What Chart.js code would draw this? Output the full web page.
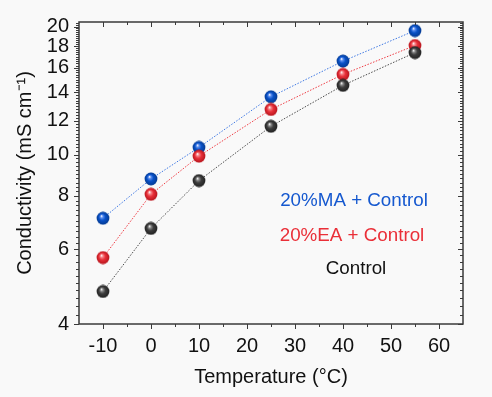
<!DOCTYPE html>
<html>
<head>
<meta charset="utf-8">
<script src="https://cdn.jsdelivr.net/npm/chart.js@4"></script>
<style>
  html, body { margin: 0; padding: 0; background: #f9f9f9; }
  #wrap { width: 492px; height: 397px; }
</style>
</head>
<body>
<div id="wrap"><canvas id="chart" width="492" height="397"></canvas></div>
<script>
// ---- data ----
const temps = [-10, 0, 10, 25, 40, 55];
const maValues = [7.09, 8.77, 10.40, 13.68, 16.59, 19.57];
const eaValues = [5.73, 8.07, 9.92, 12.77, 15.44, 18.05];
const controlValues = [4.77, 6.71, 8.69, 11.66, 14.55, 17.37];

const xTicks = [-10, 0, 10, 20, 30, 40, 50, 60];
const xMinorTicks = [-5, 5, 15, 25, 35, 45, 55];
const yTicks = [4, 6, 8, 10, 12, 14, 16, 18, 20];
const yMinorStep = 0.2;

const FONT = '"Liberation Sans", Arial, sans-serif';
const AXIS = '#3a3a3a';

// shaded ball used as point style
function makeBall(base, light, dark) {
    const r = 6.4, s = 14;
    const c = document.createElement('canvas');
    c.width = s; c.height = s;
    const g = c.getContext('2d');
    const grad = g.createRadialGradient(s / 2 - 1.6, s / 2 - 2.2, 0.2, s / 2, s / 2, r);
    grad.addColorStop(0, '#ffffff');
    grad.addColorStop(0.2, light);
    grad.addColorStop(0.5, base);
    grad.addColorStop(1, dark);
    g.fillStyle = grad;
    g.beginPath();
    g.arc(s / 2, s / 2, r, 0, Math.PI * 2);
    g.fill();
    return c;
}

const balls = {
    ma: makeBall('#0a52c8', '#5d8ff0', '#033a93'),
    ea: makeBall('#e8313a', '#f7888c', '#b8141c'),
    control: makeBall('#3d3d3d', '#8a8a8a', '#222222')
};

function series(values, color, ball) {
    return {
        data: temps.map((t, i) => ({ x: t, y: values[i] })),
        borderColor: color,
        borderWidth: 1,
        borderDash: [1.5, 1.5],
        pointStyle: ball,
        pointRadius: 7,
        pointHoverRadius: 7,
        tension: 0,
        fill: false
    };
}

// frame + ticks drawn Origin style (out on left/bottom, in on top/right)
const framePlugin = {
    id: 'frame',
    afterDraw(chart) {
        const { ctx, chartArea: a, scales: { x, y } } = chart;
        ctx.save();
        ctx.strokeStyle = AXIS;
        ctx.lineWidth = 1.5;
        ctx.strokeRect(a.left, a.top, a.right - a.left, a.bottom - a.top);

        ctx.lineWidth = 1;
        ctx.beginPath();
        const hTick = (v, len) => {
            const px = Math.round(x.getPixelForValue(v)) + 0.5;
            ctx.moveTo(px, a.bottom); ctx.lineTo(px, a.bottom + len);
            ctx.moveTo(px, a.top); ctx.lineTo(px, a.top + len);
        };
        const vTick = (v, len) => {
            const py = Math.round(y.getPixelForValue(v)) + 0.5;
            ctx.moveTo(a.left - len, py); ctx.lineTo(a.left, py);
            ctx.moveTo(a.right, py); ctx.lineTo(a.right - len, py);
        };
        xTicks.forEach(v => hTick(v, 5));
        xMinorTicks.forEach(v => hTick(v, 3));
        yTicks.forEach(v => vTick(v, 5));
        for (let v = yTicks[0] + yMinorStep; v < y.max; v += yMinorStep) {
            const r = Math.round(v * 10) / 10;
            if (!yTicks.includes(r)) vTick(r, 3);
        }
        ctx.stroke();

        // in-plot labels
        ctx.font = '18.8px ' + FONT;
        ctx.textAlign = 'center';
        ctx.textBaseline = 'middle';
        ctx.fillStyle = '#1558cf';
        ctx.fillText('20%MA + Control', 354, 201);
        ctx.fillStyle = '#ea2f38';
        ctx.fillText('20%EA + Control', 352, 236);
        ctx.fillStyle = '#111111';
        ctx.fillText('Control', 356, 269);
        ctx.restore();
    }
};

new Chart(document.getElementById('chart'), {
    type: 'line',
    data: {
        datasets: [
            series(controlValues, '#4a4a4a', balls.control),
            series(eaValues, '#ee3a42', balls.ea),
            series(maValues, '#3f78e2', balls.ma)
        ]
    },
    options: {
        responsive: false,
        animation: false,
        events: [],
        layout: { padding: { top: 14, right: 29, left: 0, bottom: 0 } },
        plugins: { legend: { display: false }, tooltip: { enabled: false } },
        scales: {
            x: {
                type: 'linear',
                min: -15,
                max: 65,
                afterBuildTicks: s => { s.ticks = xTicks.map(v => ({ value: v })); },
                afterFit: s => { s.height = 73; },
                grid: { display: false, drawTicks: false },
                border: { display: false },
                ticks: { color: '#111', padding: 10, maxRotation: 0, font: { family: FONT, size: 20 } },
                title: {
                    display: true, text: 'Temperature (°C)', color: '#111',
                    font: { family: FONT, size: 20 }, padding: { top: 0, bottom: 8 }
                }
            },
            y: {
                type: 'logarithmic',
                min: 4,
                max: 20.5,
                afterBuildTicks: s => { s.ticks = yTicks.map(v => ({ value: v })); },
                afterFit: s => { s.width = 79; },
                grid: { display: false, drawTicks: false },
                border: { display: false },
                ticks: {
                    color: '#111', padding: 10, font: { family: FONT, size: 20 },
                    callback: v => String(v)
                },
                title: {
                    display: true, text: 'Conductivity (mS cm⁻¹)', color: '#111',
                    font: { family: FONT, size: 20 }, padding: { top: 13, bottom: 0 }
                }
            }
        }
    },
    plugins: [framePlugin]
});
</script>
</body>
</html>
